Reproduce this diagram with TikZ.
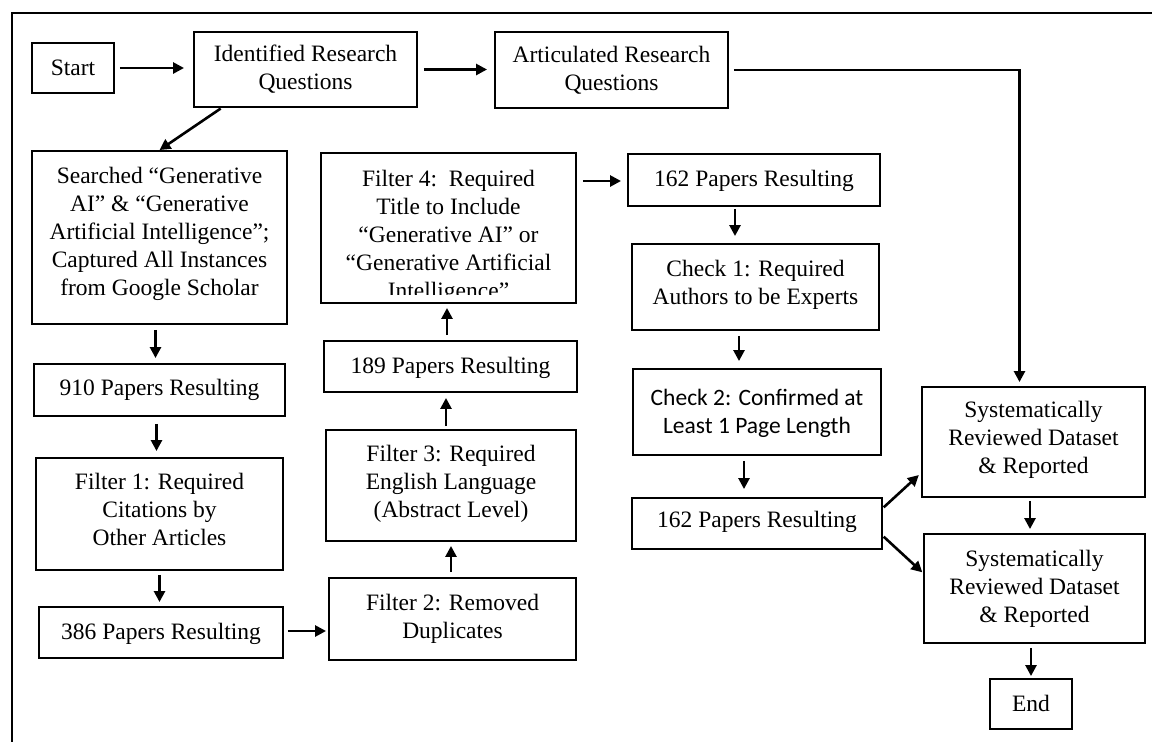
\documentclass[tikz,border=0pt]{standalone}
\usepackage{fontspec}
\setmainfont{Liberation Serif}
\newfontfamily\calibri{Carlito}
\usetikzlibrary{arrows.meta}
\tikzset{
 box/.style={draw, line width=1.9pt, inner sep=0pt},
 txt/.style={font=\fontsize{23.5}{28}\selectfont, align=center, inner sep=0pt},
 arr/.style={line width=2.6pt, -{Triangle[length=11pt,width=11pt]}},
}
\begin{document}
\begin{tikzpicture}[x=1pt,y=-1pt]
\useasboundingbox (0,0) rectangle (1152,742);
\draw[line width=2pt] (12,742) -- (12,13) -- (1152,13);

\node[box, minimum width=82pt, minimum height=50pt, label={[txt,yshift=0pt]center:Start}] (start) at (73,68) {};
\node[box, minimum width=223pt, minimum height=75pt, label={[txt,yshift=0pt]center:Identified Research\\Questions}] (irq) at (305.5,69.5) {};
\node[box, minimum width=233pt, minimum height=76pt, label={[txt,yshift=0pt]center:Articulated Research\\Questions}] (arq) at (611.5,70) {};
\node[box, minimum width=255pt, minimum height=173pt, label={[txt,yshift=4pt]center:Searched “Generative\\AI” \& “Generative\\Artificial Intelligence”;\\Captured All Instances\\from Google Scholar}] (search) at (159.5,237.5) {};
\node[box, minimum width=251pt, minimum height=52pt, label={[txt,yshift=0pt]center:910 Papers Resulting}] (p910) at (159.5,390) {};
\node[box, minimum width=247pt, minimum height=112pt, label={[txt,yshift=5pt]center:Filter 1: Required\\Citations by\\Other Articles}] (filter1) at (159.5,514) {};
\node[box, minimum width=244pt, minimum height=51pt, label={[txt,yshift=-1pt]center:386 Papers Resulting}] (p386) at (161,632.5) {};
\node[box, minimum width=247pt, minimum height=82pt, label={[txt,yshift=0pt]center:Filter 2: Removed\\Duplicates}] (filter2) at (452.5,619) {};
\node[box, minimum width=250pt, minimum height=111pt, label={[txt,yshift=2pt]center:Filter 3: Required\\English Language\\(Abstract Level)}] (filter3) at (451,485.5) {};
\node[box, minimum width=253pt, minimum height=51pt, label={[txt,yshift=-1pt]center:189 Papers Resulting}] (p189) at (450.5,366.5) {};
\node[box, minimum width=255pt, minimum height=150pt, path picture={
  \clip (path picture bounding box.north west) rectangle ([yshift=9pt]path picture bounding box.south east);
  \node[txt, anchor=north] (f4text) at ([yshift=-8pt]path picture bounding box.north) {Filter 4:\ \ Required\\Title to Include\\“Generative AI” or\\“Generative Artificial\\Intelligence”};
}] (filter4) at (448.5,228) {};
\node[box, minimum width=252pt, minimum height=52pt, label={[txt,yshift=-1pt]center:162 Papers Resulting}] (p162a) at (754,180) {};
\node[box, minimum width=247pt, minimum height=86pt, label={[txt,yshift=2pt]center:Check 1: Required\\Authors to be Experts}] (check1) at (755.5,287) {};
\node[box, minimum width=248pt, minimum height=86pt, label={[txt,font=\calibri\fontsize{23.5}{28}\selectfont,yshift=-1pt]center:Check 2: Confirmed at\\Least 1 Page Length}] (check2) at (757,412) {};
\node[box, minimum width=250pt, minimum height=51pt, label={[txt,yshift=2pt]center:162 Papers Resulting}] (p162b) at (757,523.5) {};
\node[box, minimum width=223pt, minimum height=110pt, label={[txt,yshift=2pt]center:Systematically\\Reviewed Dataset\\\& Reported}] (srd1) at (1033.5,442) {};
\node[box, minimum width=221pt, minimum height=109pt, label={[txt,yshift=0pt]center:Systematically\\Reviewed Dataset\\\& Reported}] (srd2) at (1034.5,588.5) {};
\node[box, minimum width=82pt, minimum height=50pt, label={[txt,yshift=1pt]center:End}] (end) at (1031,704) {};

\draw[arr, shorten <=5pt, shorten >=9pt] (start.east) -- (start.east -| irq.west);
\draw[arr, shorten <=6pt, shorten >=7pt] (irq.east) -- (irq.east -| arq.west);
\draw[arr, shorten <=5pt, shorten >=4pt] (arq.east) -| ([xshift=-14pt]srd1.north);
\draw[arr, shorten <=1pt] ([xshift=-84pt]irq.south) -- (search.north);
\draw[arr, shorten <=5pt, shorten >=5pt] ([xshift=-4pt]search.south) -- ([xshift=-4pt]p910.north);
\draw[arr, shorten <=7pt, shorten >=6pt] ([xshift=-3pt]p910.south) -- ([xshift=-3pt]filter1.north);
\draw[arr, shorten <=4pt, shorten >=4pt] (filter1.south) -- (filter1.south |- p386.north);
\draw[arr, shorten <=4pt, shorten >=2pt] ([yshift=1.5pt]p386.east) -- ([yshift=1.5pt]p386.east -| filter2.west);
\draw[arr, shorten <=5pt, shorten >=4pt] ([xshift=-1.5pt]filter2.north) -- ([xshift=-1.5pt]filter2.north |- filter3.south);
\draw[arr, shorten <=3pt, shorten >=5pt] ([xshift=-5pt]filter3.north) -- ([xshift=-5pt]filter3.north |- p189.south);
\draw[arr, shorten <=5pt, shorten >=4pt] ([xshift=-3.5pt]p189.north) -- ([xshift=-3.5pt]p189.north |- filter4.south);
\draw[arr, shorten <=6pt, shorten >=6pt] ([yshift=-1pt]p162a.west -| filter4.east) -- ([yshift=-1pt]p162a.west);
\draw[arr, shorten <=2pt, shorten >=7pt] ([xshift=-19pt]p162a.south) -- ([xshift=-20.5pt]check1.north);
\draw[arr, shorten <=5pt, shorten >=7pt] ([xshift=-16.5pt]check1.south) -- ([xshift=-18pt]check2.north);
\draw[arr, shorten <=5pt, shorten >=8pt] ([xshift=-13pt]check2.south) -- ([xshift=-13pt]p162b.north);
\draw[arr, shorten <=1pt, shorten >=3pt] ([yshift=15.5pt]p162b.east) -- ([yshift=-31pt]srd1.west);
\draw[arr, shorten <=1pt, shorten >=1pt] ([yshift=-12.5pt]p162b.east) -- ([yshift=15.5pt]srd2.west);
\draw[arr, shorten <=3pt, shorten >=4pt] ([xshift=-3.5pt]srd1.south) -- ([xshift=-4.5pt]srd2.north);
\draw[arr, shorten <=4pt, shorten >=2pt] ([xshift=-3.5pt]srd2.south) -- (end.north);
\end{tikzpicture}
\end{document}
